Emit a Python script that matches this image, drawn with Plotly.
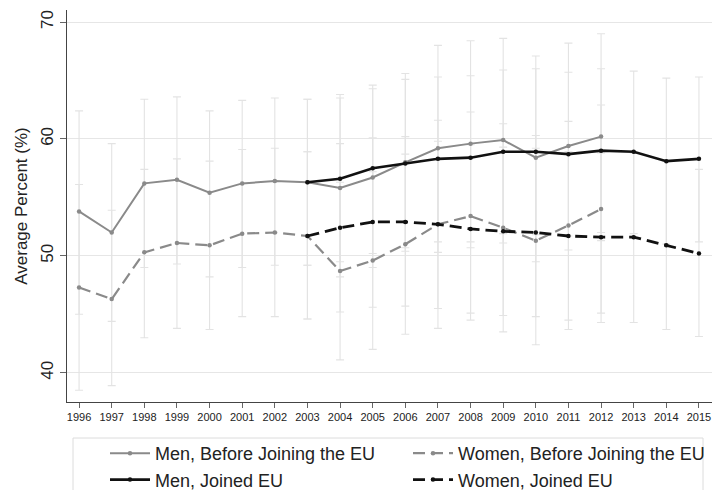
import plotly.graph_objects as go

years_before = list(range(1996, 2013))
men_before = [53.8, 52.0, 56.2, 56.5, 55.4, 56.2, 56.4, 56.3, 55.8, 56.7, 58.0, 59.2, 59.6, 59.9, 58.4, 59.4, 60.2]
men_before_lo = [45.0, 44.4, 49.0, 49.3, 48.2, 49.0, 49.2, 49.2, 48.2, 49.0, 50.4, 50.3, 50.7, 51.1, 49.5, 50.5, 51.3]
men_before_hi = [62.4, 59.6, 63.4, 63.6, 62.4, 63.3, 63.5, 63.4, 63.5, 64.3, 65.6, 68.0, 68.4, 68.6, 67.1, 68.2, 69.0]

women_before = [47.3, 46.3, 50.3, 51.1, 50.9, 51.9, 52.0, 51.7, 48.7, 49.6, 51.0, 52.7, 53.4, 52.4, 51.3, 52.6, 54.0]
women_before_lo = [38.5, 38.9, 43.0, 43.8, 43.7, 44.8, 44.8, 44.6, 41.1, 42.0, 43.3, 43.8, 44.5, 43.5, 42.4, 43.7, 45.1]
women_before_hi = [56.1, 53.9, 57.4, 58.3, 58.1, 59.1, 59.2, 58.9, 56.3, 57.2, 58.7, 61.6, 62.3, 61.3, 60.3, 61.5, 62.9]

years_joined = list(range(2003, 2016))
men_joined = [56.3, 56.6, 57.5, 57.9, 58.3, 58.4, 58.9, 58.9, 58.7, 59.0, 58.9, 58.1, 58.3]
men_joined_lo = [49.2, 49.5, 50.2, 50.7, 51.2, 51.2, 51.9, 51.8, 51.7, 52.0, 51.9, 51.0, 51.2]
men_joined_hi = [63.4, 63.8, 64.6, 65.1, 65.3, 65.4, 65.9, 66.0, 65.7, 66.0, 65.8, 65.2, 65.3]

women_joined = [51.7, 52.4, 52.9, 52.9, 52.7, 52.3, 52.1, 52.0, 51.7, 51.6, 51.6, 50.9, 50.2]
women_joined_lo = [44.6, 45.2, 45.6, 45.7, 45.5, 45.1, 44.9, 44.8, 44.5, 44.3, 44.3, 43.7, 43.1]
women_joined_hi = [58.9, 59.6, 60.1, 60.2, 59.8, 59.5, 59.3, 59.2, 58.9, 58.8, 58.8, 58.1, 57.4]

x_ticks = list(range(1996, 2016))
y_ticks = [40, 50, 60, 70]

series = [
    ("Men, Before Joining the EU", years_before, men_before, men_before_lo, men_before_hi, "#8a8a8a", "solid", 2, "legend"),
    ("Men, Joined EU", years_joined, men_joined, men_joined_lo, men_joined_hi, "#111111", "solid", 2.6, "legend"),
    ("Women, Before Joining the EU", years_before, women_before, women_before_lo, women_before_hi, "#8a8a8a", "12px,6px", 2.2, "legend2"),
    ("Women, Joined EU", years_joined, women_joined, women_joined_lo, women_joined_hi, "#111111", "12px,6px", 2.8, "legend2"),
]

fig = go.Figure()

# error bars first (behind lines)
for name, xs, ys, lo, hi, col, dash, w, lg in series:
    fig.add_trace(go.Scatter(
        x=xs, y=ys, mode="markers",
        marker=dict(size=0.1, opacity=0, color=col),
        error_y=dict(type="data", symmetric=False,
                     array=[h - v for h, v in zip(hi, ys)],
                     arrayminus=[v - l for v, l in zip(ys, lo)],
                     color="#e3e3e3", thickness=1.1, width=4),
        showlegend=False, hoverinfo="skip"))

for name, xs, ys, lo, hi, col, dash, w, lg in series:
    fig.add_trace(go.Scatter(
        x=xs, y=ys, mode="lines+markers", name=name, legend=lg,
        line=dict(color=col, width=w, dash=dash),
        marker=dict(size=4.5, color=col, symbol="circle")))

W, H = 713, 490
L, R, T, B = 67, 1, 10, 88
pw, ph = W - L - R, H - T - B

def px(xf):
    return (xf - L) / pw

def py(yf):
    return (H - B - yf) / ph

legend_common = dict(orientation="v", xanchor="left", yanchor="top", y=py(435),
                     borderwidth=0, bgcolor="rgba(0,0,0,0)",
                     font=dict(size=18, color="#222"), itemwidth=40, tracegroupgap=0)

fig.update_layout(
    width=W, height=H,
    margin=dict(l=L, r=R, t=T, b=B, autoexpand=False),
    paper_bgcolor="white", plot_bgcolor="white",
    font=dict(family="Arial, Liberation Sans, sans-serif", color="#222"),
    xaxis=dict(range=[1995.63, 2015.4], tickvals=x_ticks, ticktext=[str(v) for v in x_ticks],
               showgrid=False, zeroline=False, showline=True, linecolor="#444", linewidth=1,
               ticks="outside", ticklen=5, tickcolor="#666", tickfont=dict(size=11, color="#222"),
               automargin=False, ticklabeloverflow="allow"),
    yaxis=dict(range=[37.5, 71.03], tickvals=y_ticks, showgrid=True, gridcolor="#e6e6e6", gridwidth=1.3,
               zeroline=False, showline=True, linecolor="#444", linewidth=1,
               ticks="outside", ticklen=6, tickcolor="#666", tickangle=-90,
               tickfont=dict(size=17, color="#222"), automargin=False,
               title=dict(text="Average Percent (%)", font=dict(size=17, color="#222"), standoff=6)),
    legend=dict(x=px(105), **legend_common),
    legend2=dict(x=px(408), **legend_common),
    shapes=[dict(type="rect", xref="paper", yref="paper",
                 x0=px(73), x1=px(703), y0=py(438), y1=py(528),
                 line=dict(color="#dcdcdc", width=1), fillcolor="rgba(0,0,0,0)")],
)

fig.write_html("out.html",
               config={"displayModeBar": False},
               post_script="document.body.style.margin='0';document.body.style.overflow='hidden';")
